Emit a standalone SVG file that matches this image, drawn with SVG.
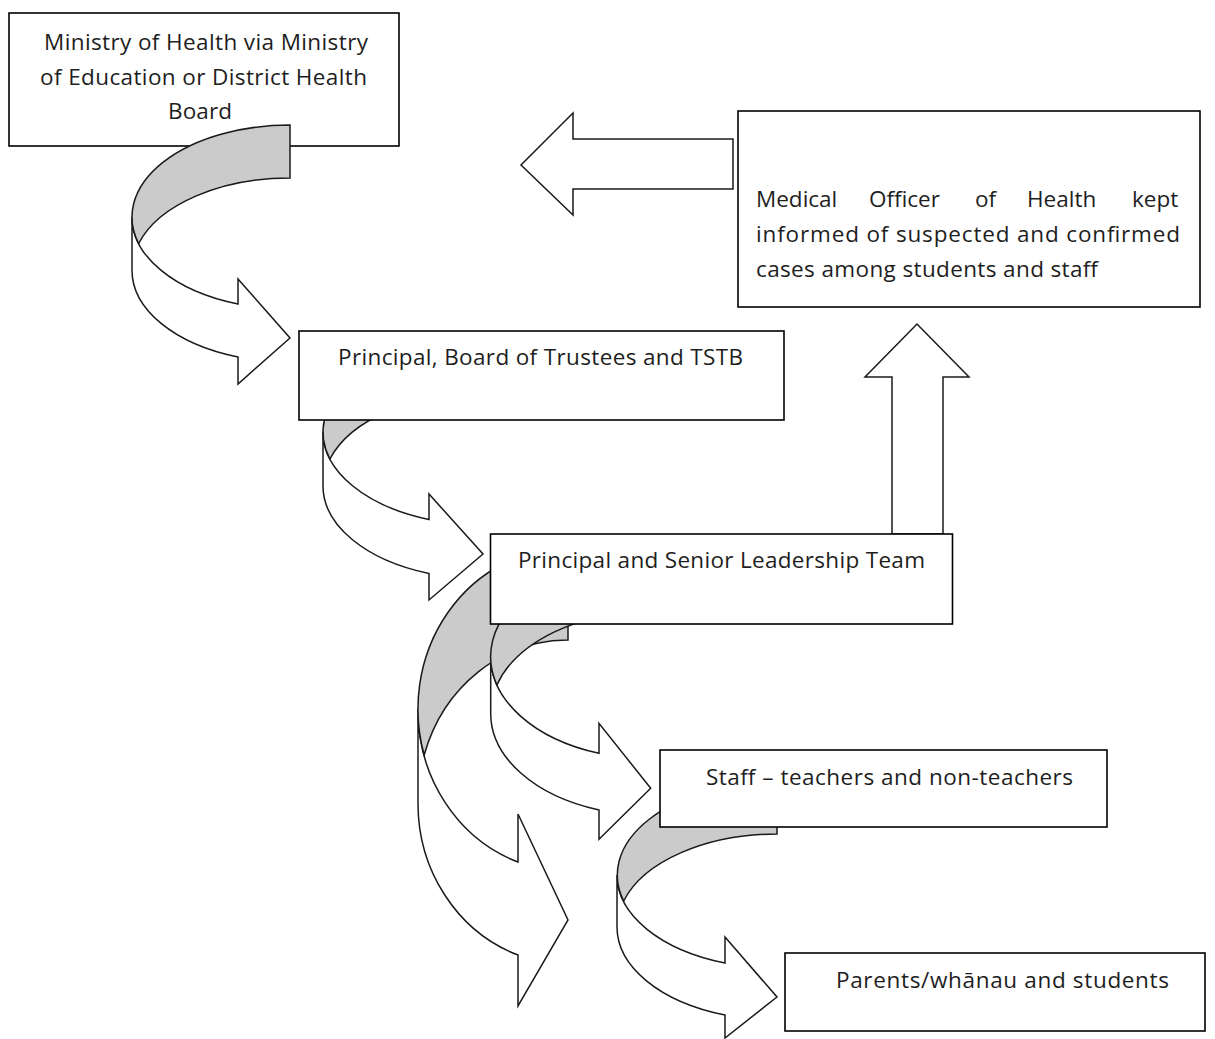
<svg xmlns="http://www.w3.org/2000/svg" width="1215" height="1039" viewBox="0 0 1215 1039">
<style>
.box{fill:#fff;stroke:#000;stroke-width:1.6}
.front{fill:#fff;stroke:#1a1a1a;stroke-width:1.5;stroke-linejoin:miter}
.back{fill:#cbcbcb;stroke:#1a1a1a;stroke-width:1.5}
.t{font-family:"Open Sans","Liberation Sans",sans-serif;font-size:22.5px;fill:#1e1e1e}
</style>
<rect width="1215" height="1039" fill="#fff"/>
<g id="node-ministry">
<rect class="box" x="9" y="13" width="390" height="133"/>
<text class="t" x="44" y="50" textLength="324" lengthAdjust="spacing">Ministry of Health via Ministry</text>
<text class="t" x="40" y="84.5" textLength="327" lengthAdjust="spacing">of Education or District Health</text>
<text class="t" x="168" y="118.5" textLength="64" lengthAdjust="spacing">Board</text>
</g>
<g id="connectors">
<g id="arrow-1">
<path class="front" d="M132,217 A158,92 0 0 0 238,304 L238,279 L290,338 L238,384 L238,357 A158,92 0 0 1 132,270 Z"/>
<path class="back" d="M290,125 A158,92 0 0 0 138.7,243.5 A158,92 0 0 1 290,178 Z"/>
</g>
<g id="arrow-2">
<path class="front" d="M323,432 A160,93 0 0 0 429,519.5 L429,494 L483,554 L429,600 L429,573.5 A160,93 0 0 1 323,486 Z"/>
<path class="back" d="M483,339 A160,93 0 0 0 329.9,459 A160,93 0 0 1 483,393 Z"/>
</g>
<g id="arrow-3">
<path class="front" d="M418,709 A150,161 0 0 0 518,862 L518,814 L568,920 L518,1006 L518,955 A150,161 0 0 1 418,801 Z"/>
<path class="back" d="M568,548 A150,161 0 0 0 424.2,755 A150,161 0 0 1 568,640 Z"/>
</g>
<g id="arrow-4">
<path class="front" d="M490.7,656.7 A160,102 0 0 0 599,753.3 L599,723.3 L650.7,788.3 L599,839.3 L599,810 A160,102 0 0 1 490.7,713.4 Z"/>
<path class="back" d="M650.7,554.7 A160,102 0 0 0 496.9,685 A160,102 0 0 1 650.7,611.4 Z"/>
</g>
<g id="arrow-5">
<path class="front" d="M617,875 A160,93 0 0 0 725,963 L725,937 L777,997 L725,1038 L725,1015 A160,93 0 0 1 617,927 Z"/>
<path class="back" d="M777,782 A160,93 0 0 0 623.7,901 A160,93 0 0 1 777,834 Z"/>
</g>
<path id="arrow-left" class="front" d="M733,139 L573,139 L573,113 L521,165 L573,215 L573,189 L733,189 Z"/>
<path id="arrow-up" class="front" d="M892,534 L892,377 L865,377 L917,324 L969,377 L943,377 L943,534 Z"/>
</g>
<g id="node-principal-board">
<rect class="box" x="299" y="331" width="485" height="89"/>
<text class="t" x="338" y="365" textLength="405" lengthAdjust="spacing">Principal, Board of Trustees and TSTB</text>
</g>
<g id="node-principal-slt">
<rect class="box" x="490.5" y="534" width="462" height="90"/>
<text class="t" x="518" y="568" textLength="407" lengthAdjust="spacing">Principal and Senior Leadership Team</text>
</g>
<g id="node-staff">
<rect class="box" x="660" y="750" width="447" height="77"/>
<text class="t" x="706" y="785" textLength="367" lengthAdjust="spacing">Staff – teachers and non-teachers</text>
</g>
<g id="node-parents">
<rect class="box" x="785" y="953" width="420" height="78"/>
<text class="t" x="836" y="988" textLength="333" lengthAdjust="spacing">Parents/whānau and students</text>
</g>
<g id="node-moh">
<rect class="box" x="738" y="111" width="462" height="196"/>
<text class="t" y="207"><tspan x="756">Medical</tspan><tspan x="869">Officer</tspan><tspan x="975">of</tspan><tspan x="1027">Health</tspan><tspan x="1132">kept</tspan></text>
<text class="t" x="756" y="242" textLength="424" lengthAdjust="spacing">informed of suspected and confirmed</text>
<text class="t" x="756" y="277" textLength="342" lengthAdjust="spacing">cases among students and staff</text>
</g>
</svg>
